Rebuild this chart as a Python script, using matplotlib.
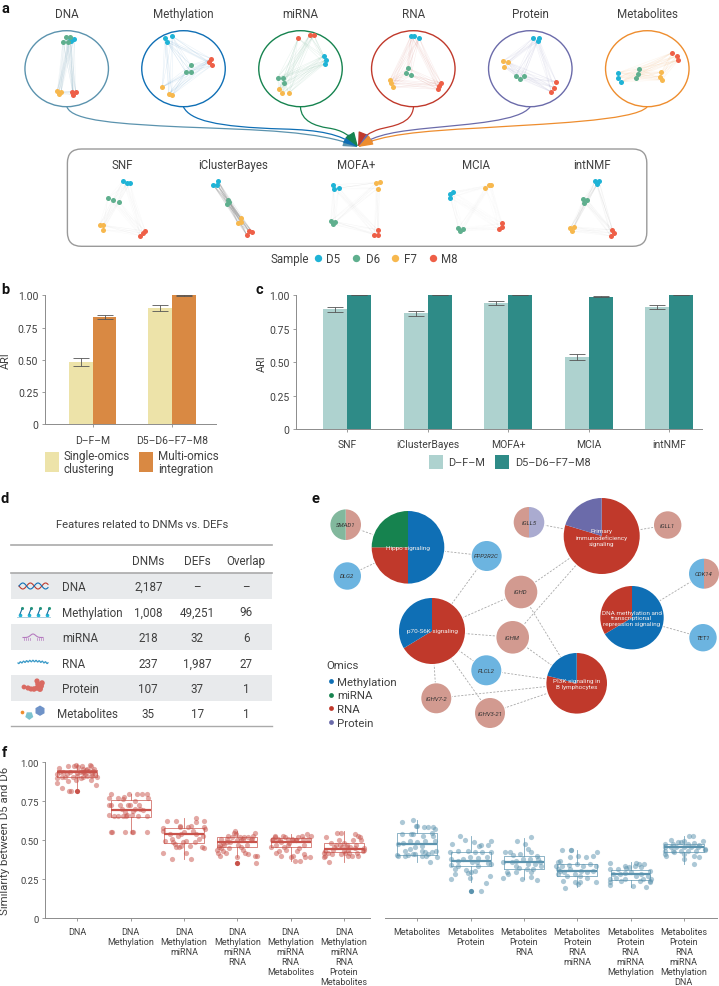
import numpy as np
import matplotlib
matplotlib.use('Agg')
import matplotlib.pyplot as plt
from matplotlib.patches import Ellipse, FancyBboxPatch, FancyArrowPatch, Wedge, Circle, Rectangle, RegularPolygon
from matplotlib.path import Path
from matplotlib.collections import LineCollection

plt.rcParams['font.family'] = ['Roboto', 'DejaVu Sans']
W, H = 719, 987
TXT = '#404040'
AX = '#8c8c8c'
SX, SY = 2.18, 3.0

# panel a: nodes of each network, listed per sample (D5, D6, F7, M8)
sample_names = ['D5', 'D6', 'F7', 'M8']
sample_colors = ['#1FB3D6', '#5FAF8E', '#F7B84E', '#EE5F47']
omic_names = ['DNA', 'Methylation', 'miRNA', 'RNA', 'Protein', 'Metabolites']
omic_colors = ['#5B93AE', '#0F6FB5', '#16834F', '#C0392B', '#6B6BAA', '#EE8D2E']
omic_centers = [66.7, 183.5, 300.5, 413.3, 530.3, 647.3]
dna_nodes = [[(153, 118), (162, 119), (155, 125)], [(143, 113), (137, 128), (148, 128), (152, 113)],
             [(125, 276), (133, 280), (128, 284)], [(158, 278), (165, 278), (160, 288)]]
meth_nodes = [[(376, 112), (359, 118), (363, 128)], [(416, 198), (405, 219), (416, 218)],
              [(354, 264), (368, 284), (375, 288)], [(460, 179), (456, 189), (463, 198)]]
mirna_nodes = [[(706, 170), (710, 183), (708, 194)], [(605, 236), (618, 236), (620, 251)],
               [(608, 271), (615, 283), (630, 282)], [(650, 118), (675, 108), (684, 108)]]
rna_nodes = [[(896, 110), (902, 110), (914, 117)], [(890, 207), (885, 222), (896, 229)],
             [(850, 242), (852, 253), (856, 264)], [(962, 252), (958, 260), (955, 271)]]
prot_nodes = [[(1163, 116), (1174, 118), (1172, 127)], [(1124, 230), (1133, 239), (1142, 232)],
              [(1097, 186), (1107, 188), (1099, 203)], [(1213, 249), (1208, 266), (1202, 279)]]
metab_nodes = [[(1348, 221), (1347, 236), (1353, 249)], [(1393, 210), (1391, 225), (1386, 236)],
               [(1441, 220), (1438, 233), (1443, 243)], [(1465, 161), (1476, 170), (1479, 183)]]
omic_nodes = [dna_nodes, meth_nodes, mirna_nodes, rna_nodes, prot_nodes, metab_nodes]

method_names = ['SNF', 'iClusterBayes', 'MOFA+', 'MCIA', 'intNMF']
method_centers = [122.5, 233, 356.4, 476, 591.7]
method_edge_alpha = [0.04, 0.2, 0.04, 0.03, 0.06]
snf_nodes = [[(268, 545), (276, 553), (283, 553)], [(235, 597), (246, 602), (260, 608)],
             [(217, 677), (225, 679), (225, 693)], [(317, 696), (311, 703), (306, 710)]]
icb_nodes = [[(475, 545), (465, 558), (474, 558)], [(497, 604), (500, 608), (495, 615)],
             [(525, 658), (525, 668), (519, 673)], [(543, 697), (550, 699), (538, 708)]]
mofa_nodes = [[(726, 557), (728, 569), (739, 567)], [(721, 665), (731, 668), (726, 676)],
              [(820, 551), (828, 550), (823, 569)], [(823, 692), (816, 707), (825, 707)]]
mcia_nodes = [[(988, 578), (980, 585), (981, 596)], [(999, 687), (1010, 690), (1002, 697)],
              [(1058, 567), (1067, 558), (1071, 558)], [(1095, 673), (1095, 685), (1087, 691)]]
nmf_nodes = [[(1298, 546), (1306, 546), (1302, 556)], [(1272, 600), (1280, 603), (1274, 611)],
             [(1251, 683), (1243, 688), (1247, 697)], [(1335, 692), (1338, 703), (1332, 711)]]
method_nodes = [snf_nodes, icb_nodes, mofa_nodes, mcia_nodes, nmf_nodes]

# panel b
b_groups = ['D\u2013F\u2013M', 'D5\u2013D6\u2013F7\u2013M8']
b_single = [0.48, 0.90]
b_single_lo = [0.45, 0.88]
b_single_hi = [0.515, 0.925]
b_multi = [0.83, 1.00]
b_multi_lo = [0.82, 0.998]
b_multi_hi = [0.845, 1.00]

# panel c
c_groups = ['SNF', 'iClusterBayes', 'MOFA+', 'MCIA', 'intNMF']
c_dfm = [0.895, 0.865, 0.94, 0.535, 0.915]
c_dfm_lo = [0.875, 0.845, 0.925, 0.515, 0.90]
c_dfm_hi = [0.915, 0.885, 0.955, 0.56, 0.93]
c_all = [1.0, 1.0, 1.0, 0.99, 1.0]
c_all_lo = [0.999, 0.999, 0.999, 0.987, 0.999]
c_all_hi = [1.0, 1.0, 1.0, 0.993, 1.0]

# panel d
d_rows = ['DNA', 'Methylation', 'miRNA', 'RNA', 'Protein', 'Metabolites']
d_dnms = ['2,187', '1,008', '218', '237', '107', '35']
d_defs = ['\u2013', '49,251', '32', '1,987', '37', '17']
d_overlap = ['\u2013', '96', '6', '27', '1', '1']

# panel e: name, shares and omics of each pie
e_colors = {'Methylation': '#0F6FB5', 'miRNA': '#16834F', 'RNA': '#C0392B', 'Protein': '#6B6BAA'}
e_soft = {'Methylation': '#6CB4E0', 'miRNA': '#82B89D', 'RNA': '#D29A90', 'Protein': '#AAABD0'}
e_big = {
    'Hippo': ('Hippo signaling', [0.5, 0.25, 0.25], ['Methylation', 'RNA', 'miRNA'], 408, 548.3, 36.3),
    'Primary': ('Primary\nimmunodeficiency\nsignaling', [0.797, 0.203], ['RNA', 'Protein'], 601.7, 537, 38),
    'p70': ('p70-S6K signaling', [0.663, 0.337], ['RNA', 'Methylation'], 432, 632, 33),
    'DNAm': ('DNA methylation and\ntranscriptional\nrepression signaling', [0.664, 0.336], ['Methylation', 'RNA'], 632, 618.7, 31.7),
    'PI3K': ('PI3K signaling in\nB lymphocytes', [0.79, 0.21], ['RNA', 'Methylation'], 576.7, 684.3, 30.3),
}
e_small = {
    'SMAD1': ([0.5, 0.5], ['RNA', 'miRNA'], 345.7, 525.7, 15.3),
    'DLG2': ([1], ['Methylation'], 347.3, 577, 13.7),
    'PPP2R2C': ([1], ['Methylation'], 486.7, 557, 15),
    'IGLL5': ([0.5, 0.5], ['Protein', 'RNA'], 529, 523.3, 15.3),
    'IGLL1': ([1], ['RNA'], 667.7, 526, 13.7),
    'IGHD': ([1], ['RNA'], 521, 593, 16.3),
    'IGHM': ([1], ['RNA'], 512.7, 638.3, 16.3),
    'PLCL2': ([1], ['Methylation'], 486.3, 671.3, 15),
    'IGHV7-2': ([1], ['RNA'], 436.3, 699.3, 15),
    'IGHV3-21': ([1], ['RNA'], 490, 714, 15),
    'CDK14': ([0.5, 0.5], ['RNA', 'Methylation'], 704, 574.7, 15),
    'TET1': ([1], ['Methylation'], 703, 638.7, 13.7),
}
e_links = [('SMAD1', 'Hippo'), ('DLG2', 'Hippo'), ('Hippo', 'PPP2R2C'), ('PPP2R2C', 'p70'),
           ('IGLL5', 'Primary'), ('Primary', 'IGLL1'), ('Primary', 'IGHD'), ('Primary', 'IGHM'),
           ('p70', 'IGHD'), ('p70', 'IGHM'), ('p70', 'PLCL2'), ('p70', 'IGHV7-2'), ('p70', 'IGHV3-21'),
           ('IGHD', 'PI3K'), ('IGHM', 'PI3K'), ('PLCL2', 'PI3K'), ('IGHV7-2', 'PI3K'), ('IGHV3-21', 'PI3K'),
           ('CDK14', 'DNAm'), ('TET1', 'DNAm')]

# panel f
f_left_labels = ['DNA', 'DNA\nMethylation', 'DNA\nMethylation\nmiRNA', 'DNA\nMethylation\nmiRNA\nRNA',
                 'DNA\nMethylation\nmiRNA\nRNA\nMetabolites', 'DNA\nMethylation\nmiRNA\nRNA\nProtein\nMetabolites']
f_right_labels = ['Metabolites', 'Metabolites\nProtein', 'Metabolites\nProtein\nRNA',
                  'Metabolites\nProtein\nRNA\nmiRNA', 'Metabolites\nProtein\nRNA\nmiRNA\nMethylation',
                  'Metabolites\nProtein\nRNA\nmiRNA\nMethylation\nDNA']
# whislo, q1, median, q3, whishi
f_left_box = [(0.82, 0.904, 0.936, 0.953, 0.99), (0.55, 0.652, 0.697, 0.758, 0.80), (0.38, 0.483, 0.538, 0.579, 0.643),
              (0.39, 0.455, 0.489, 0.519, 0.56), (0.37, 0.455, 0.487, 0.513, 0.54), (0.363, 0.423, 0.444, 0.483, 0.56)]
f_right_box = [(0.36, 0.408, 0.479, 0.545, 0.63), (0.23, 0.333, 0.37, 0.427, 0.526), (0.252, 0.314, 0.359, 0.402, 0.515),
               (0.20, 0.274, 0.301, 0.348, 0.44), (0.20, 0.244, 0.286, 0.312, 0.36), (0.348, 0.423, 0.455, 0.479, 0.526)]
f_left_out = [(0, 0.814), (3, 0.355)]
f_right_out = [(1, 0.175)]

g1_x = [-.38, -.34, -.39, -.38, -.28, -.17, -.15, -.12, -.06, -.03, .02, .05, 0, -.03, -.17, -.23, -.26, -.14, .11, .16,
        .23, .25, .32, .33, .36, .35, .25, .19, .11, .07, .14, .30, .27, .21, -.29, -.20, -.33, .08, -.09, .10, .18, .28, .12, 0]
g1_y = [.925, .962, .897, .87, .835, .979, .814, .814, .979, .983, .972, .936, .915, .887, .878, .904, .936, .94, .957, .953,
        .985, .979, .957, .925, .904, .857, .889, .915, .904, .90, .925, .947, .925, .947, .904, .925, .936, .979, .904, .94, .96, .91, .94, .93]
g2_x = [-.37, -.40, -.36, -.40, -.40, -.31, -.36, -.35, -.23, -.23, -.11, -.14, -.12, -.03, -.04, -.01, -.06, .02, .02, .05,
        .08, .12, .08, .16, .17, .14, .21, .30, .33, .30, .30, -.15, -.09, -.20, -.11, .05, .24, -.17]
g2_y = [.797, .769, .729, .729, .662, .658, .556, .556, .769, .658, .556, .765, .776, .797, .729, .729, .662, .662, .556, .556,
        .70, .797, .754, .726, .70, .658, .797, .797, .769, .658, .556, .658, .658, .729, .68, .69, .697, .70]
g3_x = [-.39, -.39, -.39, -.31, -.27, -.36, -.22, -.21, -.14, -.22, -.08, -.07, -.05, -.09, -.06, -.14, -.17, .04, .14, .04,
        .01, .07, .14, .23, .23, .37, .37, .39, .36, .33, .37, .17, .23, .11, .29, .20, -.02, -.11]
g3_y = [.417, .577, .562, .626, .54, .498, .509, .487, .626, .38, .583, .594, .54, .455, .466, .455, .476, .417, .38, .498,
        .551, .583, .594, .643, .615, .626, .583, .572, .53, .455, .451, .562, .54, .466, .509, .487, .487, .53]
g4_x = [-.38, -.37, -.35, -.33, -.33, -.30, -.30, -.27, -.25, -.22, -.20, -.20, -.17, -.15, -.13, -.10, -.07, -.05, -.03, 0,
        0, .02, .05, .07, .10, .10, .13, .15, .18, .20, .20, .25, .28, .30, .33, .33, .35, .37, .07, -.27]
g4_y = [.44, .42, .46, .40, .47, .51, .45, .43, .47, .42, .49, .51, .53, .45, .49, .52, .55, .56, .54, .50,
        .395, .47, .52, .50, .44, .51, .52, .42, .47, .52, .41, .50, .51, .53, .55, .40, .355, .40, .46, .48]
g5_x = [-.37, -.35, -.33, -.30, -.28, -.27, -.24, -.22, -.20, -.17, -.17, -.14, -.12, -.10, -.08, -.05, -.03, 0, .02, .05,
        .08, .10, .12, .14, .15, .18, .21, .23, .25, .25, .27, .30, .33, .36, .38, -.05, .10, -.30, .05]
g5_y = [.46, .50, .51, .53, .42, .47, .51, .43, .50, .40, .49, .53, .46, .52, .44, .51, .48, .39, .51, .50,
        .37, .50, .43, .52, .45, .37, .53, .51, .41, .47, .39, .54, .51, .39, .53, .47, .50, .52, .40]
g6_x = [-.38, -.37, -.35, -.33, -.35, -.30, -.28, -.25, -.22, -.20, -.18, -.15, -.12, -.10, -.08, -.05, -.03, 0, 0, .03,
        .05, .07, .08, .10, .12, .15, .18, .20, .22, .25, .27, .30, .33, .35, .37, .38, .27, .20, -.05, .05]
g6_y = [.39, .42, .40, .52, .43, .42, .36, .48, .41, .44, .46, .47, .55, .50, .47, .55, .46, .43, .48, .42,
        .46, .44, .40, .42, .46, .40, .50, .54, .47, .42, .53, .52, .50, .43, .45, .44, .40, .45, .41, .47]
r1_x = [-.28, -.09, -.03, 0, .12, .20, .30, .33, -.29, -.11, -.08, .11, .27, .29, .14, -.01, -.14, -.26, -.36, .08,
        -.04, -.14, -.23, -.39, -.36, -.23, -.17, -.04, .08, .14, .20, .27, .375, .24, -.08, .08, .17, .35, .33]
r1_y = [.62, .63, .59, .59, .585, .585, .585, .57, .54, .54, .54, .53, .547, .525, .498, .49, .498, .483, .476, .466,
        .455, .445, .434, .408, .40, .40, .408, .415, .43, .425, .41, .425, .39, .36, .415, .40, .40, .434, .498]
r2_x = [-.19, -.34, -.11, .07, .16, .2, .32, .375, -.39, -.23, -.04, .08, .22, .39, -.36, -.23, -.14, -.01, .14, .3,
        -.375, -.23, -.29, -.29, -.375, -.09, -.04, .01, -.02, .14, .33, .375, .36, .29, .08, .02, .125, .2]
r2_y = [.526, .476, .504, .49, .466, .47, .47, .498, .423, .434, .434, .427, .427, .427, .38, .37, .38, .39, .385, .39,
        .342, .338, .316, .284, .252, .312, .29, .30, .256, .338, .353, .347, .274, .226, .305, .359, .359, .175]
r3_x = [-.125, .125, .02, .07, -.36, -.26, -.2, -.075, .14, .24, -.39, -.23, -.14, -.01, .11, .27, .3, -.39, -.325, -.29,
        -.14, -.04, .14, .24, .175, .05, .33, -.15, -.09, .08, .2, .14]
r3_y = [.498, .519, .476, .444, .423, .423, .406, .412, .427, .402, .359, .359, .37, .38, .38, .38, .359, .256, .295, .284,
        .295, .252, .263, .248, .316, .316, .338, .338, .321, .348, .348, .299]
r4_x = [-.28, -.125, -.11, .375, .16, .3, .02, -.14, -.325, -.36, -.39, -.29, -.15, -.01, .11, .24, .36, -.36, -.325, -.25,
        -.14, -.04, .05, .175, .3, -.36, -.26, -.04, .02, .05, -.23, .175, .36, -.2, .08]
r4_y = [.44, .44, .44, .423, .391, .397, .402, .391, .37, .359, .338, .338, .342, .348, .338, .348, .338, .316, .305, .299,
        .316, .284, .274, .295, .305, .284, .24, .231, .22, .231, .194, .256, .231, .274, .305]
r5_x = [-.38, -.11, -.02, .1, .16, .26, -.38, -.24, -.08, .08, .2, .36, -.33, -.2, -.11, .01, .1, .2, .325, .39,
        -.38, -.39, -.27, -.11, .04, .17, .29, -.38, .36, .375, .23, -.175]
r5_y = [.353, .338, .327, .353, .348, .348, .316, .316, .323, .338, .327, .306, .284, .284, .291, .295, .274, .284, .274, .252,
        .252, .231, .256, .252, .209, .242, .20, .214, .235, .242, .252, .242]
r6_x = [.09, .17, -.24, -.05, .01, .36, -.36, -.2, -.11, .075, .2, .29, -.36, -.24, -.14, .01, .14, .26, .39, -.36,
        -.2, -.05, .075, .23, -.33, -.36, .01, .2, .29, .01, .2, .39, -.175]
r6_y = [.53, .526, .504, .491, .498, .498, .476, .476, .487, .476, .483, .47, .455, .455, .455, .455, .455, .455, .444, .434,
        .434, .434, .434, .434, .40, .412, .412, .40, .39, .38, .348, .44, .423]
f_left_x, f_left_y = [g1_x, g2_x, g3_x, g4_x, g5_x, g6_x], [g1_y, g2_y, g3_y, g4_y, g5_y, g6_y]
f_right_x, f_right_y = [r1_x, r2_x, r3_x, r4_x, r5_x, r6_x], [r1_y, r2_y, r3_y, r4_y, r5_y, r6_y]


def px_axes(x0, y0, x1, y1):
    ax = fig.add_axes([x0 / W, 1 - y1 / H, (x1 - x0) / W, (y1 - y0) / H])
    ax.patch.set_alpha(0)
    return ax


def style_axes(ax, size=7.5):
    for s in ['top', 'right']:
        ax.spines[s].set_visible(False)
    for s in ['left', 'bottom']:
        ax.spines[s].set_color(AX)
        ax.spines[s].set_linewidth(0.7)
    ax.tick_params(length=2.5, width=0.6, color=AX, labelcolor=TXT, labelsize=size, pad=2)


def draw_network(nodes, color, alpha, lw=0.35):
    pts = [[(x / SX, y / SY) for x, y in grp] for grp in nodes]
    segs = []
    for i in range(4):
        for j in range(i + 1, 4):
            segs += [[a, b] for a in pts[i] for b in pts[j]]
    ov.add_collection(LineCollection(segs, colors=color, alpha=alpha, linewidths=lw, zorder=1))
    for grp, c in zip(pts, sample_colors):
        ov.scatter([p[0] for p in grp], [p[1] for p in grp], s=13, color=c, linewidths=0, zorder=3)


def draw_pie(cx, cy, r, shares, cols):
    a = -90
    for s, c in zip(shares, cols):
        ov.add_patch(Wedge((cx, cy), r, a, a + s * 360, facecolor=c, edgecolor='none', zorder=3))
        a += s * 360


def draw_bars(ax, x, vals, lo, hi, color):
    ax.bar(x, vals, 0.3, color=color)
    ax.errorbar(x, vals, yerr=[np.subtract(vals, lo), np.subtract(hi, vals)], fmt='none', ecolor='#555555',
                elinewidth=0.6, capsize=5.6, capthick=0.6)


fig = plt.figure(figsize=(W / 100, H / 100), dpi=100)
ov = fig.add_axes([0, 0, 1, 1])
ov.set_xlim(0, W)
ov.set_ylim(H, 0)
ov.axis('off')

for lab, x, y in [('a', 5, 9), ('b', 5, 290), ('c', 259, 290), ('d', 5, 499), ('e', 315, 499), ('f', 4, 753)]:
    ov.text(x, y, lab, fontsize=10.5, fontweight='bold', color='#111111', ha='center', va='center', zorder=6)

# a
for name, col, cx, nodes in zip(omic_names, omic_colors, omic_centers, omic_nodes):
    ov.add_patch(Ellipse((cx, 69.7), 83.5, 76, facecolor='none', edgecolor=col, linewidth=1.0, zorder=2))
    ov.text(cx, 18, name, fontsize=8.4, color=TXT, ha='center', va='baseline')
    draw_network(nodes, col, 0.1)

arrow_paths = [
    [(67, 108), (72, 122), (120, 125), (183, 128), (260, 131), (320, 132), (358, 148)],
    [(183.5, 108), (190, 121), (215, 128), (283, 130), (320, 131), (340, 135), (358, 148)],
    [(300.5, 108), (301, 122), (315, 127), (328, 129), (342, 131), (350, 136), (358, 148)],
    [(413.5, 108), (412, 125), (392, 127), (380, 130), (370, 133), (362, 138), (358, 148)],
    [(530, 108), (520, 122), (470, 125), (430, 129), (400, 132), (375, 135), (358, 148)],
    [(647, 108), (635, 122), (540, 125), (480, 129), (420, 132), (380, 136), (358, 148)],
]
for verts, col in zip(arrow_paths, omic_colors):
    codes = [Path.MOVETO] + [Path.CURVE4] * 6
    ov.add_patch(FancyArrowPatch(path=Path(verts, codes), arrowstyle='-|>,head_length=9,head_width=3.2',
                                 mutation_scale=1, color=col, linewidth=0.9, zorder=2))

ov.add_patch(FancyBboxPatch((67.4, 150), 579.4, 97.3, boxstyle='round,pad=0,rounding_size=14',
                            facecolor='none', edgecolor='#9a9a9a', linewidth=1.0, zorder=2))
for name, cx, alpha, nodes in zip(method_names, method_centers, method_edge_alpha, method_nodes):
    ov.text(cx, 169, name, fontsize=8.3, color=TXT, ha='center', va='baseline')
    draw_network(nodes, '#808080', alpha)

ov.text(270.6, 263, 'Sample', fontsize=8.3, color=TXT, va='baseline')
for name, col, dx, tx in zip(sample_names, sample_colors, [318.3, 356.4, 394.5, 432.6], [326, 365.6, 403.7, 441.3]):
    ov.scatter([dx], [259.3], s=28, color=col, linewidths=0, zorder=3)
    ov.text(tx, 263, name, fontsize=8.3, color=TXT, va='baseline')

# b
axb = px_axes(44.5, 296.3, 215.6, 425.3)
style_axes(axb)
axb.set_xlim(-0.608, 1.55)
axb.set_ylim(0, 1)
xb = np.arange(2)
draw_bars(axb, xb - 0.15, b_single, b_single_lo, b_single_hi, '#EDE3A9')
draw_bars(axb, xb + 0.15, b_multi, b_multi_lo, b_multi_hi, '#D98943')
axb.set_xticks(xb, b_groups)
axb.set_yticks([0, .25, .5, .75, 1], ['0', '0.25', '0.50', '0.75', '1.00'])
axb.set_ylabel('ARI', fontsize=7.8, color=TXT)
axb.yaxis.set_label_coords(-0.196, 0.5)
axb.tick_params(axis='x', pad=5)
ov.add_patch(Rectangle((45, 453.3), 14, 19.4, facecolor='#EDE3A9', edgecolor='none'))
ov.text(64, 463, 'Single-omics\nclustering', fontsize=8.4, color=TXT, va='center', linespacing=1.05)
ov.add_patch(Rectangle((138.7, 453.3), 14, 19.4, facecolor='#D98943', edgecolor='none'))
ov.text(158.3, 463, 'Multi-omics\nintegration', fontsize=8.4, color=TXT, va='center', linespacing=1.05)

# c
axc = px_axes(295.9, 296.3, 701.8, 430)
style_axes(axc)
axc.set_xlim(-0.637, 4.405)
axc.set_ylim(0, 1)
xc = np.arange(5)
draw_bars(axc, xc - 0.15, c_dfm, c_dfm_lo, c_dfm_hi, '#AED2CF')
draw_bars(axc, xc + 0.15, c_all, c_all_lo, c_all_hi, '#2E8B87')
axc.set_xticks(xc, c_groups)
axc.set_yticks([0, .25, .5, .75, 1], ['0', '0.25', '0.50', '0.75', '1.00'])
axc.set_ylabel('ARI', fontsize=7.8, color=TXT)
axc.yaxis.set_label_coords(-0.071, 0.5)
axc.tick_params(axis='x', pad=5)
ov.add_patch(Rectangle((429.4, 456), 13.4, 14, facecolor='#AED2CF', edgecolor='none'))
ov.text(447.7, 463, b_groups[0], fontsize=7.8, color=TXT, va='center')
ov.add_patch(Rectangle((495.4, 456), 13.8, 14, facecolor='#2E8B87', edgecolor='none'))
ov.text(514.7, 463, b_groups[1], fontsize=7.8, color=TXT, va='center')

# d
ov.text(141.7, 525, 'Features related to DNMs vs. DEFs', fontsize=8.1, color=TXT, ha='center', va='center')
ov.plot([10.7, 272], [546, 546], color='#aaaaaa', lw=1.2)
ov.plot([10.7, 272], [574, 574], color='#aaaaaa', lw=1.2)
ov.plot([10.7, 272], [726.7, 726.7], color='#aaaaaa', lw=1.0)
for name, x in zip(['DNMs', 'DEFs', 'Overlap'], [148.3, 197.3, 246.3]):
    ov.text(x, 565, name, fontsize=8.4, color=TXT, ha='center', va='baseline')
row_h = 25.5
for i, (name, a, b, c) in enumerate(zip(d_rows, d_dnms, d_defs, d_overlap)):
    yc = 587 + i * row_h
    if i % 2 == 0 and i < 5:
        ov.add_patch(Rectangle((10.7, yc - 12.6), 261.3, 25.2, facecolor='#E8EAEC', edgecolor='none', zorder=0))
    ov.text(57 if name == 'Metabolites' else 62, yc + 4, name, fontsize=8.4, color=TXT, va='baseline')
    for val, x in zip([a, b, c], [148.3, 197.3, 246.3]):
        ov.text(x, yc + 4, val, fontsize=8.4, color=TXT, ha='center', va='baseline')

# d icons
t = np.linspace(0, 1, 60)
ov.plot(19 + 29 * t, 587 + 3 * np.sin(t * 12), color='#C0392B', lw=0.8)
ov.plot(19 + 29 * t, 587 - 3 * np.sin(t * 12), color='#0F6FB5', lw=0.8)
ov.plot([17, 50], [618, 618], color='#9cc8dc', lw=0.6)
for x in [20, 29, 38, 47]:
    ov.plot([x, x + 2], [615, 610], color='#1c6e9c', lw=0.8)
    ov.scatter([x + 2], [609], s=5, color='#2a9a7a', linewidths=0)
    ov.scatter([x], [615.5], s=7, color='#1FB3D6', linewidths=0)
ov.plot(23 + 20 * t, 638.5 - 3.5 * np.exp(-((t - 0.5) / 0.18) ** 2), color='#B57ABF', lw=0.8)
for x in [24, 26, 28, 30, 37, 39, 41, 43]:
    ov.plot([x, x], [638.5, 641], color='#B57ABF', lw=0.5)
ov.plot(18 + 30 * t, 664 - 2 * np.sin(t * 3.14) + 0.8 * np.sin(t * 60), color='#3D9BC8', lw=0.9)
ov.scatter([24, 28, 31, 34, 37, 40, 38, 42, 37, 41], [688, 689, 690, 690, 689, 690, 685, 684, 682, 687],
           s=[12, 14, 14, 16, 16, 18, 16, 16, 14, 18], color='#D96A62', linewidths=0)
ov.scatter([22], [712.7], s=7, color='#EE8D2E', linewidths=0, zorder=3)
ov.add_patch(RegularPolygon((29.3, 716.7), 5, radius=4.2, facecolor='#7CC3CF', edgecolor='none', zorder=3))
ov.add_patch(RegularPolygon((40, 711.7), 6, radius=5.2, facecolor='#6F93C8', edgecolor='none', zorder=3))

# e
e_pos = {k: (v[3], v[4], v[5]) for k, v in e_big.items()}
e_pos.update({k: (v[2], v[3], v[4]) for k, v in e_small.items()})
for a, b in e_links:
    ov.plot([e_pos[a][0], e_pos[b][0]], [e_pos[a][1], e_pos[b][1]], color='#a8a8a8', lw=0.6,
            ls=(0, (2.5, 1.8)), zorder=1)
for key, (label, shares, omics, cx, cy, r) in e_big.items():
    ov.add_patch(Circle((cx, cy), r + 1, facecolor='white', edgecolor='none', zorder=2))
    draw_pie(cx, cy, r, shares, [e_colors[o] for o in omics])
    ov.text(cx, cy + (1 if key == 'Primary' else 0), label, fontsize=4.6, color='#f4f0ee', ha='center', va='center',
            linespacing=1.15, zorder=4)
for name, (shares, omics, cx, cy, r) in e_small.items():
    ov.add_patch(Circle((cx, cy), r + 1, facecolor='white', edgecolor='none', zorder=2))
    draw_pie(cx, cy, r, shares, [e_soft[o] for o in omics])
    ov.text(cx, cy, name, fontsize=4.3, color='#333333', style='italic', ha='center', va='center', zorder=4)

ov.text(326, 669, 'Omics', fontsize=8.2, color=TXT, va='baseline')
for name, y in zip(e_colors, [682, 695.7, 709.3, 723.3]):
    ov.scatter([330.7], [y], s=12, color=e_colors[name], linewidths=0, zorder=3)
    ov.text(337, y + 3.5, name, fontsize=8.2, color=TXT, va='baseline')

# f
ax1 = px_axes(45, 763.3, 370, 919.3)
ax2 = px_axes(385, 763.3, 716.7, 919.3)
for ax, xs, ys, boxes, outs, col, labels in [
        (ax1, f_left_x, f_left_y, f_left_box, f_left_out, '#C8524A', f_left_labels),
        (ax2, f_right_x, f_right_y, f_right_box, f_right_out, '#5B93AE', f_right_labels)]:
    style_axes(ax, 6.8)
    ax.set_ylim(0, 1)
    for i, (gx, gy, bx) in enumerate(zip(xs, ys, boxes)):
        ax.scatter(i + np.array(gx), gy, s=14, color=col, alpha=0.5, linewidths=0, zorder=2)
        stats = [dict(whislo=bx[0], q1=bx[1], med=bx[2], q3=bx[3], whishi=bx[4])]
        ax.bxp(stats, positions=[i], widths=0.75, showfliers=False, showcaps=False, manage_ticks=False,
               boxprops=dict(color=col, lw=0.6, alpha=0.8), whiskerprops=dict(color=col, lw=0.6, alpha=0.8),
               medianprops=dict(color=col, lw=1.6, solid_capstyle='butt'), zorder=3)
    ax.scatter([o[0] for o in outs], [o[1] for o in outs], s=14, color=col, linewidths=0, zorder=4)
    ax.set_xticks(range(6), labels)
    ax.tick_params(axis='x', labelsize=6.5, pad=4)
    for t_lab in ax.get_xticklabels():
        t_lab.set_linespacing(1.12)
ax1.set_xlim(-0.606, 5.49)
ax2.set_xlim(-0.606, 5.617)
ax1.set_yticks([0, .25, .5, .75, 1], ['0', '0.25', '0.50', '0.75', '1.00'])
ax1.set_ylabel('Similarity between D5 and D6', fontsize=8.2, color=TXT)
ax1.yaxis.set_label_coords(-0.108, 0.5)
ax2.spines['left'].set_visible(False)
ax2.set_yticks([])

fig.savefig('out.png', dpi=100)
